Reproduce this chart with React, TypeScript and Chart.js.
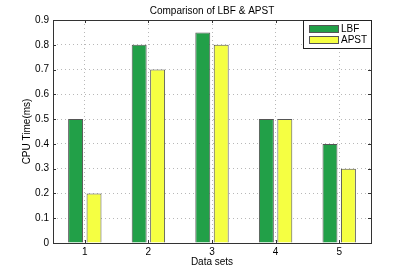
import React, { useEffect, useRef } from "react";
import { Chart, registerables } from "chart.js";

Chart.register(...registerables);

const categories = ["1", "2", "3", "4", "5"];
const lbfValues = [0.5, 0.8, 0.85, 0.5, 0.4];
const apstValues = [0.2, 0.7, 0.8, 0.5, 0.3];
const seriesNames = ["LBF", "APST"];
const titleText = "Comparison of LBF & APST";
const xTitle = "Data sets";
const yTitle = "CPU Time(ms)";

const GREEN = "rgb(34,160,72)";
const YELLOW = "rgb(245,255,66)";
const FONT = "'Liberation Sans', Arial, sans-serif";

const decorPlugin = {
  id: "decor",
  afterDraw(chart: any) {
    const { ctx, chartArea } = chart;
    const { left, right, top, bottom } = chartArea;
    const xs = chart.scales.x;
    const ys = chart.scales.y;
    ctx.save();
    // frame
    ctx.strokeStyle = "#333";
    ctx.lineWidth = 1;
    ctx.strokeRect(Math.round(left) + 0.5, Math.round(top) + 0.5, Math.round(right - left), Math.round(bottom - top));
    // inner ticks
    ctx.beginPath();
    ys.ticks.forEach((t: any, i: number) => {
      const y = Math.round(ys.getPixelForTick(i)) + 0.5;
      ctx.moveTo(left, y);
      ctx.lineTo(left + 3, y);
      ctx.moveTo(right, y);
      ctx.lineTo(right - 3, y);
    });
    xs.ticks.forEach((t: any, i: number) => {
      const x = Math.round(xs.getPixelForTick(i)) + 0.5;
      ctx.moveTo(x, bottom);
      ctx.lineTo(x, bottom - 3);
      ctx.moveTo(x, top);
      ctx.lineTo(x, top + 3);
    });
    ctx.stroke();
    // title
    ctx.fillStyle = "#000";
    ctx.font = `10px ${FONT}`;
    ctx.textAlign = "center";
    ctx.textBaseline = "middle";
    ctx.fillText(titleText, (left + right) / 2, 11);
    // x title
    ctx.fillText(xTitle, (left + right) / 2, 262);
    // y title
    ctx.save();
    ctx.translate(27, (top + bottom) / 2);
    ctx.rotate(-Math.PI / 2);
    ctx.fillText(yTitle, 0, 0);
    ctx.restore();
    // legend
    const lx = Math.round(right) - 68;
    const ly = Math.round(top);
    ctx.fillStyle = "#fff";
    ctx.fillRect(lx + 0.5, ly + 0.5, 68, 28);
    ctx.strokeStyle = "#222";
    ctx.strokeRect(lx + 0.5, ly + 0.5, 68, 28);
    const colors = [GREEN, YELLOW];
    ctx.textAlign = "left";
    seriesNames.forEach((name, i) => {
      const sy = ly + 5 + i * 11;
      ctx.fillStyle = colors[i];
      ctx.fillRect(lx + 6.5, sy + 0.5, 29, 7);
      ctx.strokeStyle = "#555";
      ctx.strokeRect(lx + 6.5, sy + 0.5, 29, 7);
      ctx.fillStyle = "#000";
      ctx.fillText(name, lx + 38, sy + 4.5);
    });
    ctx.restore();
  },
};

export default function App() {
  const ref = useRef<HTMLCanvasElement>(null);
  useEffect(() => {
    if (!ref.current) return;
    const chart = new Chart(ref.current, {
      type: "bar",
      data: {
        labels: categories,
        datasets: [
          {
            label: seriesNames[0],
            data: lbfValues,
            backgroundColor: GREEN,
            borderColor: "#555",
            borderWidth: 1,
            barPercentage: 0.81,
            categoryPercentage: 0.58,
          },
          {
            label: seriesNames[1],
            data: apstValues,
            backgroundColor: YELLOW,
            borderColor: "#555",
            borderWidth: 1,
            barPercentage: 0.81,
            categoryPercentage: 0.58,
          },
        ],
      },
      options: {
        responsive: false,
        animation: false,
        layout: { padding: { top: 20, right: 38, left: 0, bottom: 0 } },
        plugins: { legend: { display: false }, title: { display: false }, tooltip: { enabled: false } },
        scales: {
          x: {
            grid: { offset: false, color: "#b8b8b8", drawTicks: false } as any,
            border: { display: false, dash: [1, 3] } as any,
            ticks: { color: "#000", font: { size: 10, family: FONT }, padding: 3 },
            afterFit: (s: any) => {
              s.height = 30;
            },
          },
          y: {
            min: 0,
            max: 0.9,
            grid: { color: "#b8b8b8", drawTicks: false } as any,
            border: { display: false, dash: [1, 3] } as any,
            ticks: {
              stepSize: 0.1,
              color: "#000",
              font: { size: 10, family: FONT },
              padding: 4,
              callback: (v: any) => String(Math.round(Number(v) * 10) / 10),
            },
            afterFit: (s: any) => {
              s.width = 53;
            },
          },
        },
      },
      plugins: [decorPlugin],
    });
    return () => chart.destroy();
  }, []);
  return (
    <div style={{ position: "fixed", left: 0, top: 0, width: 409, height: 273, background: "#fff" }}>
      <canvas ref={ref} width={409} height={273} />
    </div>
  );
}
